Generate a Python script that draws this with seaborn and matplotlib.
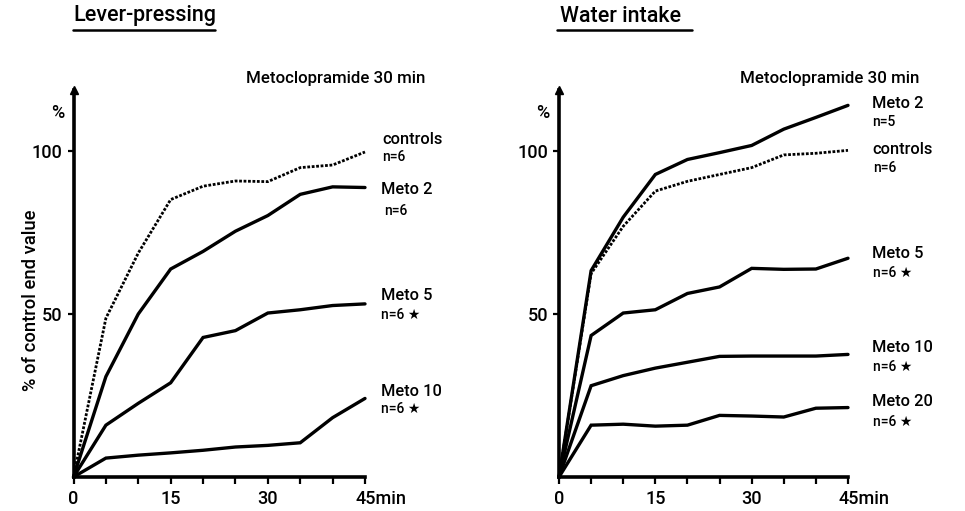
import matplotlib
matplotlib.use("Agg")
import matplotlib.pyplot as plt
from matplotlib.lines import Line2D
from matplotlib.transforms import ScaledTranslation
import numpy as np
import pandas as pd
import seaborn as sns

# ---------------- data ----------------
time_min = [0, 5, 10, 15, 20, 25, 30, 35, 40, 45]

# Lever-pressing (% of control end value)
lever_controls = [0, 48.7, 68.7, 85.1, 89.2, 90.8, 90.6, 94.9, 95.7, 99.7]
lever_meto2 = [0, 30.8, 50.0, 63.8, 69.2, 75.4, 80.2, 86.7, 89.0, 88.8]
lever_meto5 = [0, 15.9, 22.6, 28.9, 42.8, 44.9, 50.3, 51.3, 52.6, 53.1]
lever_meto10 = [0, 5.8, 6.7, 7.4, 8.2, 9.2, 9.7, 10.5, 18.2, 24.1]

# Water intake (% of control end value)
water_meto2 = [0, 63.3, 79.7, 92.8, 97.4, 99.5, 101.7, 106.7, 110.3, 114.0]
water_controls = [0, 62.4, 76.9, 87.7, 90.7, 92.8, 94.9, 98.8, 99.3, 100.2]
water_meto5 = [0, 43.4, 50.3, 51.3, 56.3, 58.3, 64.0, 63.7, 63.8, 67.1]
water_meto10 = [0, 28.0, 31.1, 33.4, 35.2, 37.0, 37.1, 37.1, 37.1, 37.6]
water_meto20 = [0, 15.9, 16.2, 15.6, 15.9, 18.9, 18.7, 18.4, 21.1, 21.3]

x_ticks = [0, 5, 10, 15, 20, 25, 30, 35, 40, 45]
x_ticklabels = ["0", "", "", "15", "", "", "30", "", "", "45min"]
y_ticks = [50, 100]
y_ticklabels = ["50", "100"]

panel_titles = ["Lever-pressing", "Water intake"]
subtitle = "Metoclopramide 30 min"

# ---------------- style ----------------
sns.set_theme(style="white")
plt.rcParams["font.family"] = ["Roboto", "DejaVu Sans"]
plt.rcParams["font.weight"] = "medium"

W, H = 965, 511
fig = plt.figure(figsize=(W / 100, H / 100), dpi=100)

def fx(px):
    return px / W

def fy(py):
    return 1 - py / H

y0_px, ytop_px = 477, 90
ymax = (y0_px - ytop_px) / 3.26

ax1 = fig.add_axes([fx(73.5), fy(y0_px), fx(365 - 73.5), (y0_px - ytop_px) / H])
ax2 = fig.add_axes([fx(559), fy(y0_px), fx(848 - 559), (y0_px - ytop_px) / H])

def long_df(series):
    rows = []
    for name, vals in series.items():
        for t, v in zip(time_min, vals):
            rows.append({"time": t, "value": v, "group": name})
    return pd.DataFrame(rows)

lever = {"controls": lever_controls, "Meto 2": lever_meto2,
         "Meto 5": lever_meto5, "Meto 10": lever_meto10}
water = {"Meto 2": water_meto2, "controls": water_controls,
         "Meto 5": water_meto5, "Meto 10": water_meto10, "Meto 20": water_meto20}

for ax, data in [(ax1, lever), (ax2, water)]:
    df = long_df(data)
    for name in data:
        sub = df[df["group"] == name]
        if name == "controls":
            sns.lineplot(data=sub, x="time", y="value", ax=ax, color="black",
                         linestyle=(0, (1, 0.6)), linewidth=2.0, clip_on=False)
        else:
            sns.lineplot(data=sub, x="time", y="value", ax=ax, color="black",
                         linewidth=2.4, clip_on=False, solid_joinstyle="miter")
    ax.set_xlim(0, 45)
    ax.set_ylim(0, ymax)
    ax.set_xlabel("")
    ax.set_ylabel("")
    for s in ["top", "right"]:
        ax.spines[s].set_visible(False)
    for s in ["left", "bottom"]:
        ax.spines[s].set_linewidth(2.6)
        ax.spines[s].set_color("black")
    ax.set_xticks(x_ticks)
    ax.set_xticklabels(x_ticklabels)
    ax.set_yticks(y_ticks)
    ax.set_yticklabels(y_ticklabels)
    ax.tick_params(axis="x", direction="out", length=5, width=1.6, color="black",
                   labelsize=13, pad=4, bottom=True, labelcolor="black")
    ax.tick_params(axis="y", direction="out", length=4, width=1.6, color="black",
                   labelsize=13, pad=4, left=True, labelcolor="black")
    last = ax.get_xticklabels()[-1]
    last.set_ha("left")
    last.set_transform(last.get_transform() +
                       ScaledTranslation(-9.5 / 100, 0, fig.dpi_scale_trans))
    # arrow on y axis
    ax.plot(0, 1, marker="^", markersize=6, color="black",
            transform=ax.transAxes, clip_on=False)
    ax.text(-0.055, 0.94, "%", transform=ax.transAxes, ha="center", va="center",
            fontsize=13, color="black")

# y label left
fig.text(fx(31), fy(300), "% of control end value", rotation=90, ha="center",
         va="center", fontsize=13.2, color="black")

# panel titles with underline
fig.text(fx(73), fy(16), panel_titles[0], ha="left", va="center", fontsize=15.5,
         color="black")
fig.add_artist(Line2D([fx(73), fx(215)], [fy(30), fy(30)], color="black", lw=1.8))
fig.text(fx(560), fy(16), panel_titles[1], ha="left", va="center", fontsize=15.5,
         color="black")
fig.add_artist(Line2D([fx(557), fx(692)], [fy(30), fy(30)], color="black", lw=1.8))

fig.text(fx(246), fy(78), subtitle, ha="left", va="center", fontsize=12.2, color="black")
fig.text(fx(740), fy(78), subtitle, ha="left", va="center", fontsize=12.2, color="black")

# line labels
lab_kw = dict(ha="left", va="center", color="black")
big, small = 11.8, 10
left_labels = [
    (382, 139, "controls", big), (382, 157, "n=6", small),
    (381, 190, "Meto 2", big), (384, 211, "n=6", small),
    (381, 296, "Meto 5", big), (381, 315, "n=6 ★", small),
    (381, 391, "Meto 10", big), (381, 409, "n=6 ★", small),
]
right_labels = [
    (872, 103, "Meto 2", big), (872, 122, "n=5", small),
    (872, 149, "controls", big), (873, 168, "n=6", small),
    (872, 254, "Meto 5", big), (873, 273, "n=6 ★", small),
    (872, 347, "Meto 10", big), (873, 367, "n=6 ★", small),
    (872, 401, "Meto 20", big), (873, 422, "n=6 ★", small),
]
for px, py, txt, fs in left_labels + right_labels:
    fig.text(fx(px), fy(py), txt, fontsize=fs, **lab_kw)

fig.savefig("out.png", dpi=100)
